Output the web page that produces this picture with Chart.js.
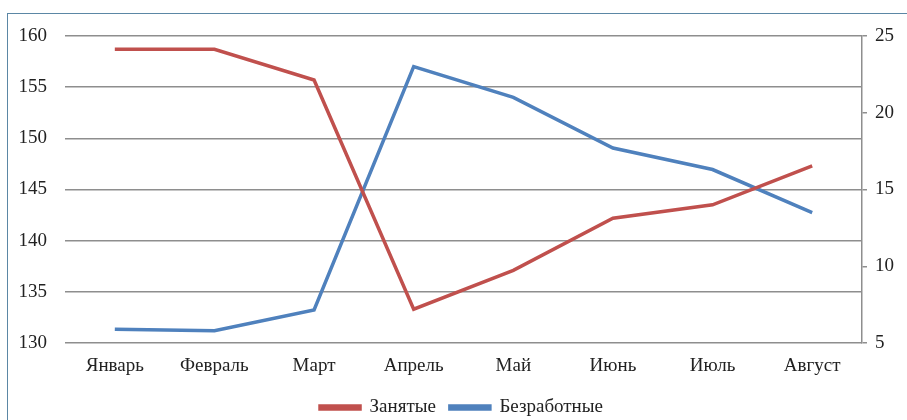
<!DOCTYPE html>
<html lang="ru">
<head>
<meta charset="UTF-8">
<title>Занятые и безработные</title>
<script src="https://cdn.jsdelivr.net/npm/chart.js"></script>
<style>
    body { margin: 0; background: #fff; }
    .wrap { position: relative; width: 907px; height: 420px; }
    .frame {
        position: absolute; left: 7px; top: 13px; width: 905px; height: 420px;
        border: 1px solid #5b87a5; box-sizing: border-box;
    }
    canvas { position: absolute; left: 0; top: 0; }
</style>
</head>
<body>
<div class="wrap">
    <div class="frame"></div>
    <canvas id="chart" width="907" height="420"></canvas>
</div>
<script>
    const months = ['Январь', 'Февраль', 'Март', 'Апрель', 'Май', 'Июнь', 'Июль', 'Август'];
    const employed = [158.7, 158.7, 155.7, 133.3, 137.1, 142.2, 143.5, 147.3];
    const unemployed = [5.9, 5.8, 7.15, 23.0, 21.0, 17.7, 16.3, 13.5];
    const leftTicks = [130, 135, 140, 145, 150, 155, 160];
    const rightTicks = [5, 10, 15, 20, 25];

    const font = { family: "'Liberation Serif', 'Times New Roman', serif", size: 19 };
    const gridColor = '#8e8e8e';

    // nudge the legend down a little, closer to the bottom edge
    const legendShift = {
        id: 'legendShift',
        afterLayout(chart) {
            if (chart.legend) {
                chart.legend.top += 7;
                chart.legend.bottom += 7;
                chart.legend.left += 8;
                chart.legend.right += 8;
            }
        }
    };

    new Chart(document.getElementById('chart'), {
        type: 'line',
        data: {
            labels: months,
            datasets: [{
                label: 'Занятые',
                data: employed,
                yAxisID: 'y',
                borderColor: '#c0504d',
                backgroundColor: '#c0504d',
                borderWidth: 3.5,
                pointRadius: 0,
                tension: 0
            }, {
                label: 'Безработные',
                data: unemployed,
                yAxisID: 'y2',
                borderColor: '#4f81bd',
                backgroundColor: '#4f81bd',
                borderWidth: 3.5,
                pointRadius: 0,
                tension: 0
            }]
        },
        plugins: [legendShift],
        options: {
            responsive: false,
            animation: false,
            layout: { padding: { top: 36, left: 0, right: 0, bottom: 0 } },
            plugins: {
                tooltip: { enabled: false },
                legend: {
                    position: 'bottom',
                    labels: {
                        color: '#222',
                        font: font,
                        boxWidth: 40,
                        boxHeight: 3,
                        padding: 14
                    }
                }
            },
            scales: {
                x: {
                    offset: true,
                    grid: { display: false, drawTicks: false },
                    border: { display: false },
                    ticks: { color: '#222', font: font, padding: 12, maxRotation: 0 },
                    afterFit(scale) { scale.height = 34; }
                },
                y: {
                    position: 'left',
                    min: leftTicks[0],
                    max: leftTicks[leftTicks.length - 1],
                    afterBuildTicks(scale) { scale.ticks = leftTicks.map(v => ({ value: v })); },
                    grid: { color: gridColor, lineWidth: 1.5, drawTicks: false },
                    border: { display: false },
                    ticks: { color: '#222', font: font, padding: 18 },
                    afterFit(scale) { scale.width = 65; }
                },
                y2: {
                    position: 'right',
                    min: rightTicks[0],
                    max: rightTicks[rightTicks.length - 1],
                    afterBuildTicks(scale) { scale.ticks = rightTicks.map(v => ({ value: v })); },
                    grid: { drawOnChartArea: false, color: gridColor, lineWidth: 1.5, tickLength: 5 },
                    border: { display: true, color: gridColor, width: 1.5 },
                    ticks: { color: '#222', font: font, padding: 8 },
                    afterFit(scale) { scale.width = 45; }
                }
            }
        }
    });
</script>
</body>
</html>
